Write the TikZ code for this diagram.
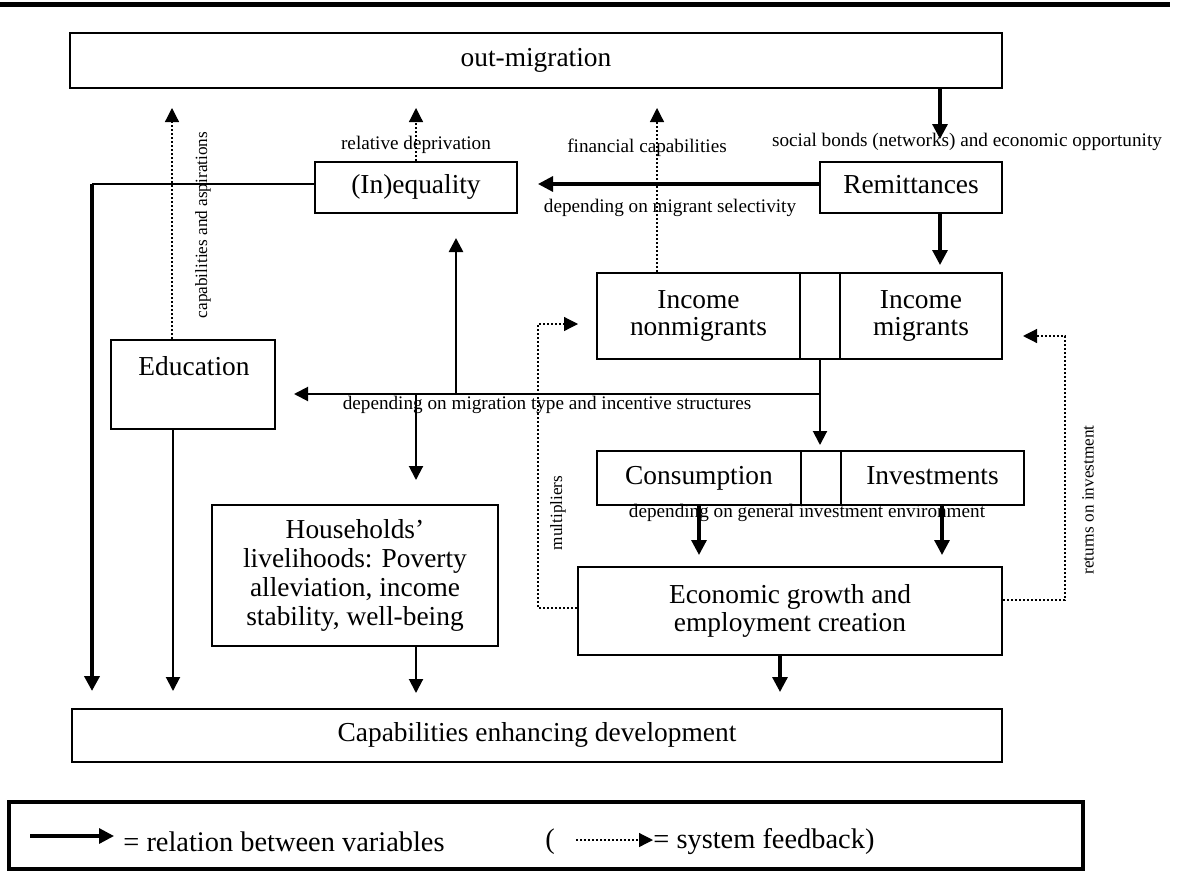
\documentclass[tikz,border=0pt]{standalone}
\usepackage{fontspec}
\setmainfont{Liberation Serif}
\usetikzlibrary{arrows.meta}
\begin{document}
\begin{tikzpicture}[x=0.5pt,y=-0.5pt,
  box/.style={draw, line width=1pt, inner sep=0pt, align=center, font=\fontsize{13.7}{13.8}\selectfont},
  sl/.style={text height=0.8em, text depth=0.2em},
  lbl/.style={inner sep=0pt, font=\fontsize{9.6}{11}\selectfont},
  rlbl/.style={inner sep=0pt, rotate=90, font=\fontsize{8.6}{10}\selectfont},
  legtxt/.style={inner sep=0pt, anchor=west, font=\fontsize{14.2}{15}\selectfont},
  rel/.style={line width=1pt, -{Triangle[width=7pt,length=7pt]}},
  relthick/.style={line width=1.6pt, -{Triangle[width=7.5pt,length=7.5pt]}},
  fb/.style={line width=0.6pt, dash pattern=on 1pt off 1pt, -{Triangle[width=7pt,length=7pt]}}
]
\useasboundingbox (0,0) rectangle (1187,872);
% top rule
\coordinate (r1) at (0,5);
\coordinate (r2) at (1170,5);
\draw[line width=2.5pt] (r1) -- (r2);

% boxes
\node[box, sl, minimum width=466pt, minimum height=27.5pt] (om) at (536,60.5) {out-migration};
\node[box, sl, minimum width=91pt, minimum height=25.5pt] (rem) at (911,187.5) {Remittances};
\node[box, sl, minimum width=101pt, minimum height=25.5pt] (ineq) at (416,187.5) {(In)equality};
\node[box, minimum width=101.5pt, minimum height=43pt] (incn) at (698.5,316) {Income\\nonmigrants};
\node[box, minimum width=20pt, minimum height=43pt] (incmid) at (820,316) {};
\node[box, minimum width=81pt, minimum height=43pt] (incm) at (921,316) {Income\\migrants};
\node[box, minimum width=82pt, minimum height=44.5pt] (edu) at (193,384.5) {};
\node[inner sep=0pt, font=\fontsize{13.7}{13.8}\selectfont] (edutxt) at (194,366) {Education};
\node[box, sl, minimum width=102pt, minimum height=27pt] (cons) at (699,478) {Consumption};
\node[box, minimum width=20pt, minimum height=27pt] (consmid) at (821,478) {};
\node[box, sl, minimum width=91.5pt, minimum height=27pt] (inv) at (932.5,478) {Investments};
\node[box, minimum width=143pt, minimum height=70.5pt, font=\fontsize{13.7}{14.5}\selectfont] (hh) at (355,575.5) {Households'\\livelihoods: Poverty\\alleviation, income\\stability, well-being};
\node[box, line width=1.2pt, minimum width=212pt, minimum height=44pt] (eco) at (790,611) {Economic growth and\\employment creation};
\node[box, sl, minimum width=465pt, minimum height=26.5pt] (cap) at (537,735.5) {Capabilities enhancing development};

% labels
\node[lbl] (lsoc) at (967,142) {social bonds (networks) and economic opportunity};
\node[lbl] (lrel) at (416,145) {relative deprivation};
\node[lbl] (lfin) at (647,148) {financial capabilities};
\node[lbl] (lsel) at (670,208) {depending on migrant selectivity};
\node[lbl] (lmig) at (547,405) {depending on migration type and incentive structures};
\node[lbl] (linv) at (807,513) {depending on general investment environment};
\node[rlbl] (lasp) at (203,225) {capabilities and aspirations};
\node[rlbl] (lmul) at (558,513) {multipliers};
\node[rlbl] (lret) at (1088,500) {returns on investment};

% coordinates for connector ends
\coordinate (t1) at (940,139);
\coordinate (t2) at (538,184);
\coordinate (t3) at (940,265);
\coordinate (t4) at (657,108);
\coordinate (t5) at (416,108);
\coordinate (t6) at (172,108);
\coordinate (k1) at (92,184);
\coordinate (t7) at (92,691);
\coordinate (t8) at (173,691);
\coordinate (j1) at (820,394);
\coordinate (t9) at (820,445);
\coordinate (t10) at (294,394);
\coordinate (j2) at (456,394);
\coordinate (t11) at (456,238);
\coordinate (j3) at (416,394);
\coordinate (t12) at (416,480);
\coordinate (t13) at (699,555);
\coordinate (t14) at (942,555);
\coordinate (t15) at (780,692);
\coordinate (t16) at (416,693);
\coordinate (m1) at (538,608);
\coordinate (m2) at (538,324);
\coordinate (t17) at (578,324);
\coordinate (q1) at (1065,600);
\coordinate (q2) at (1065,336);
\coordinate (t18) at (1023,336);

% solid relations
\draw[relthick] (t1 |- om.south) -- (t1);
\draw[relthick] (rem.west |- t2) -- (t2);
\draw[relthick] (t3 |- rem.south) -- (t3);
\draw[line width=1pt] (ineq.west |- k1) -- (k1);
\draw[relthick, line width=2pt] (k1) -- (t7);
\draw[rel] (t8 |- edu.south) -- (t8);
\draw[rel] (incmid.south) -- (t9);
\draw[rel] (j1) -- (t10);
\draw[rel, line width=1.3pt] (j2) -- (t11);
\draw[rel] (j3) -- (t12);
\draw[relthick] (t13 |- cons.south) -- (t13);
\draw[relthick] (t14 |- inv.south) -- (t14);
\draw[relthick] (t15 |- eco.south) -- (t15);
\draw[rel] (t16 |- hh.south) -- (t16);

% feedback (dotted)
\draw[fb] (t4 |- incn.north) -- (t4);
\draw[fb] (t5 |- ineq.north) -- (t5);
\draw[fb] (t6 |- edu.north) -- (t6);
\draw[fb] (m1 -| eco.west) -- (m1) -- (m2) -- (t17);
\draw[fb] (q1 -| eco.east) -- (q1) -- (q2) -- (t18);

% legend
\node[draw, line width=2pt, minimum width=537pt, minimum height=33.5pt, inner sep=0pt] (leg) at (546,835.5) {};
\coordinate (ls1) at (30,836);
\coordinate (ls2) at (114,836);
\draw[relthick] (ls1) -- (ls2);
\node[legtxt] (lt1) at (123,842) {= relation between variables};
\node[legtxt] (lpar) at (545,842) {(};
\coordinate (lf1) at (576,840);
\coordinate (lf2) at (653,840);
\draw[fb] (lf1) -- (lf2);
\node[legtxt] (lt2) at (653,842) {= system feedback)};
\end{tikzpicture}
\end{document}
